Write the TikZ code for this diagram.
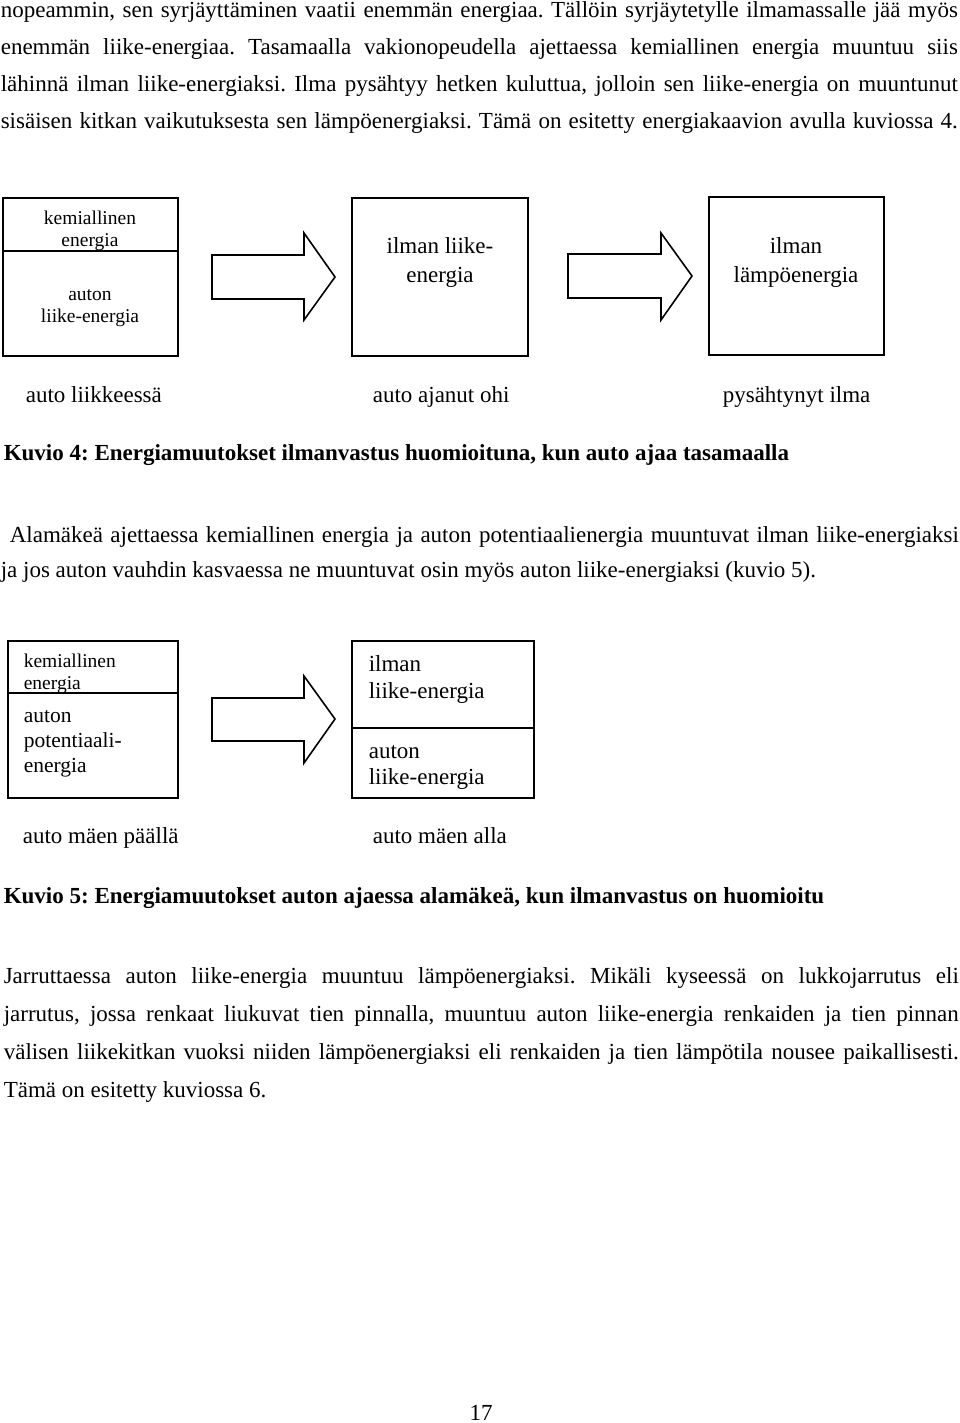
\documentclass[tikz,border=0pt]{standalone}
\usepackage{fontspec}
\setmainfont{Liberation Serif}
\frenchspacing

\newcommand{\runfont}{\fontsize{23}{27}\selectfont}
\newcommand{\boxfont}{\fontsize{23}{27}\selectfont}
\newcommand{\smallboxfont}{\fontsize{19.5}{22}\selectfont}
\newcommand{\midboxfont}{\fontsize{21.5}{25}\selectfont}

\begin{document}
\begin{tikzpicture}[
  x=1pt, y=-1pt,
  line width=1.6pt,
  box/.style={draw, rectangle, anchor=north west, inner sep=0pt, outer sep=0pt},
  blockarrow/.style={draw, line join=miter},
  txt/.style={anchor=base west, inner sep=0pt, font=\runfont},
  ctxt/.style={anchor=base, inner sep=0pt, font=\boxfont},
  captxt/.style={anchor=base west, inner sep=0pt, font=\runfont\bfseries}] % 1pt = 1px of the page

  \useasboundingbox (0,0) rectangle (960,1423);

  % text above kuvio 4
  \node[txt] (topA) at (0,18) {\makebox[957pt][s]{nopeammin, sen syrjäyttäminen vaatii enemmän energiaa. Tällöin syrjäytetylle ilmamassalle jää myös}};
  \node[txt] (topB) at (0,55) {\makebox[957pt][s]{enemmän liike-energiaa. Tasamaalla vakionopeudella ajettaessa kemiallinen energia muuntuu siis}};
  \node[txt] (topC) at (0,92) {\makebox[957pt][s]{lähinnä ilman liike-energiaksi. Ilma pysähtyy hetken kuluttua, jolloin sen liike-energia on muuntunut}};
  \node[txt] (topD) at (0,129) {\makebox[957pt][s]{sisäisen kitkan vaikutuksesta sen lämpöenergiaksi. Tämä on esitetty energiakaavion avulla kuviossa 4.}};

  % kuvio 4
  \node[box, minimum width=175pt, minimum height=158pt] (ajoBox) at (3,198) {};
  \node[box, minimum width=176pt, minimum height=158pt] (ohiBox) at (352,198) {};
  \node[box, minimum width=175pt, minimum height=158pt] (seisBox) at (709,197) {};
  \coordinate (ajoDiv) at (0,251);
  \draw (ajoBox.west |- ajoDiv) -- (ajoBox.east |- ajoDiv);

  \node[ctxt, font=\smallboxfont] (ajoKem) at (90,225) {kemiallinen};
  \node[ctxt, font=\smallboxfont] (ajoEne) at (90,247) {energia};
  \node[ctxt, font=\smallboxfont] (ajoAut) at (90,300) {auton};
  \node[ctxt, font=\smallboxfont] (ajoLii) at (90,322) {liike-energia};
  \node[ctxt] (ohiIlm) at (440,254) {ilman liike-};
  \node[ctxt] (ohiEne) at (440,282) {energia};
  \node[ctxt] (seisIlm) at (796,254) {ilman};
  \node[ctxt] (seisLam) at (796,282) {lämpöenergia};

  \coordinate (nuoliA) at (212,277);
  \draw[blockarrow] (nuoliA) ++(0,-22) -- ++(92,0) -- ++(0,-22) -- ++(31,44)
    -- ++(-31,43) -- ++(0,-21) -- ++(-92,0) -- cycle;
  \coordinate (nuoliB) at (568,276);
  \draw[blockarrow] (nuoliB) ++(0,-22) -- ++(93,0) -- ++(0,-21) -- ++(31,43)
    -- ++(-31,44) -- ++(0,-22) -- ++(-93,0) -- cycle;

  \node[txt] (ajoLabel) at (25,402) {auto liikkeessä};
  \node[txt] (ohiLabel) at (372,402) {auto ajanut ohi};
  \node[txt] (seisLabel) at (722,402) {pysähtynyt ilma};

  \node[captxt] (kuvio4) at (3,460) {Kuvio 4: Energiamuutokset ilmanvastus huomioituna, kun auto ajaa tasamaalla};

  \node[txt] (alaA) at (9,542) {\makebox[949pt][s]{Alamäkeä ajettaessa kemiallinen energia ja auton potentiaalienergia muuntuvat ilman liike-energiaksi}};
  \node[txt] (alaB) at (0,577) {ja jos auton vauhdin kasvaessa ne muuntuvat osin myös auton liike-energiaksi (kuvio 5).};

  % kuvio 5
  \node[box, minimum width=170pt, minimum height=157pt] (mKBox) at (8,641) {};
  \node[box, minimum width=182pt, minimum height=157pt] (mAlBox) at (352,641) {};
  \coordinate (mKDiv) at (0,693);
  \coordinate (mAlDiv) at (0,728);
  \draw (mKBox.west |- mKDiv) -- (mKBox.east |- mKDiv);
  \draw (mAlBox.west |- mAlDiv) -- (mAlBox.east |- mAlDiv);

  \node[txt, font=\smallboxfont] (mKKem) at (23,667) {kemiallinen};
  \node[txt, font=\smallboxfont] (mKEne) at (23,689) {energia};
  \node[txt, font=\midboxfont] (mKAut) at (23,722) {auton};
  \node[txt, font=\midboxfont] (mKPot) at (23,747) {potentiaali-};
  \node[txt, font=\midboxfont] (mKEne2) at (23,772) {energia};
  \node[txt] (mAlIlm) at (368,671) {ilman};
  \node[txt] (mAlLii) at (368,698) {liike-energia};
  \node[txt] (mAlAut) at (368,758) {auton};
  \node[txt] (mAlLii2) at (368,784) {liike-energia};

  \coordinate (nuoliC) at (212,719);
  \draw[blockarrow] (nuoliC) ++(0,-21) -- ++(92,0) -- ++(0,-22) -- ++(31,43)
    -- ++(-31,44) -- ++(0,-22) -- ++(-92,0) -- cycle;

  \node[txt] (mKLabel) at (22,843) {auto mäen päällä};
  \node[txt] (mAlLabel) at (372,843) {auto mäen alla};

  \node[captxt] (kuvio5) at (3,903) {Kuvio 5: Energiamuutokset auton ajaessa alamäkeä, kun ilmanvastus on huomioitu};

  % text below kuvio 5
  \node[txt] (jarA) at (3,983) {\makebox[955pt][s]{Jarruttaessa auton liike-energia muuntuu lämpöenergiaksi. Mikäli kyseessä on lukkojarrutus eli}};
  \node[txt] (jarB) at (3,1021) {\makebox[955pt][s]{jarrutus, jossa renkaat liukuvat tien pinnalla, muuntuu auton liike-energia renkaiden ja tien pinnan}};
  \node[txt] (jarC) at (3,1059) {\makebox[955pt][s]{välisen liikekitkan vuoksi niiden lämpöenergiaksi eli renkaiden ja tien lämpötila nousee paikallisesti.}};
  \node[txt] (jarD) at (3,1097) {Tämä on esitetty kuviossa 6.};

  \node[ctxt, font=\runfont] (sivu) at (481,1420) {17};
\end{tikzpicture}
\end{document}
